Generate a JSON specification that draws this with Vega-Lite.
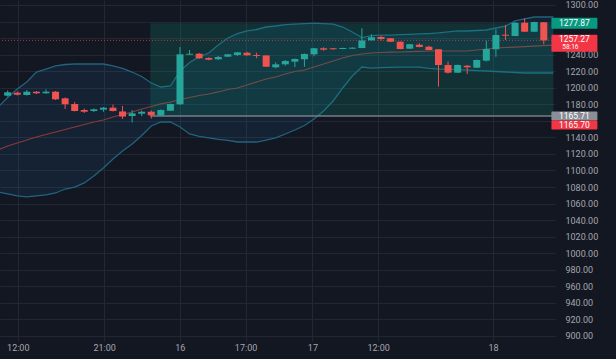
{
"$schema": "https://vega.github.io/schema/vega-lite/v6.json",
"width": 555, "height": 341,
"autosize": {"type": "none"},
"padding": {"left": 0, "top": 0, "right": 61, "bottom": 18},
"background": "#131722",
"config": {"view": {"stroke": null}, "font": "Roboto"},
"datasets": {
"candles": [
{"i":0,"o":1190.4,"h":1196.7,"l":1189.4,"c":1194.5},
{"i":1,"o":1194.0,"h":1195.5,"l":1190.6,"c":1191.6},
{"i":2,"o":1191.2,"h":1197.3,"l":1190.6,"c":1195.2},
{"i":3,"o":1195.2,"h":1196.0,"l":1192.4,"c":1193.3},
{"i":4,"o":1193.3,"h":1197.9,"l":1192.7,"c":1195.2},
{"i":5,"o":1195.2,"h":1196.0,"l":1185.2,"c":1186.0},
{"i":6,"o":1187.2,"h":1188.2,"l":1174.3,"c":1180.0},
{"i":7,"o":1180.3,"h":1182.8,"l":1171.3,"c":1171.9},
{"i":8,"o":1173.1,"h":1174.9,"l":1169.5,"c":1171.0},
{"i":9,"o":1171.9,"h":1174.9,"l":1170.7,"c":1173.9},
{"i":10,"o":1173.5,"h":1176.7,"l":1171.0,"c":1175.9},
{"i":11,"o":1175.9,"h":1179.7,"l":1171.3,"c":1171.9},
{"i":12,"o":1171.3,"h":1177.9,"l":1162.2,"c":1165.2},
{"i":13,"o":1165.8,"h":1173.1,"l":1158.0,"c":1169.1},
{"i":14,"o":1168.6,"h":1172.5,"l":1165.8,"c":1171.0},
{"i":15,"o":1171.0,"h":1172.5,"l":1162.8,"c":1166.7},
{"i":16,"o":1166.4,"h":1173.7,"l":1165.8,"c":1173.1},
{"i":17,"o":1172.2,"h":1180.9,"l":1171.9,"c":1180.3},
{"i":18,"o":1180.0,"h":1249.2,"l":1179.1,"c":1240.4},
{"i":19,"o":1239.9,"h":1245.6,"l":1239.6,"c":1241.1},
{"i":20,"o":1241.1,"h":1242.0,"l":1234.7,"c":1235.6},
{"i":21,"o":1236.0,"h":1236.8,"l":1233.2,"c":1233.9},
{"i":22,"o":1234.4,"h":1238.4,"l":1233.5,"c":1237.2},
{"i":23,"o":1237.5,"h":1240.8,"l":1237.2,"c":1240.4},
{"i":24,"o":1239.6,"h":1243.2,"l":1238.4,"c":1242.8},
{"i":25,"o":1242.3,"h":1243.5,"l":1238.7,"c":1239.2},
{"i":26,"o":1239.6,"h":1242.3,"l":1235.6,"c":1238.4},
{"i":27,"o":1239.0,"h":1239.6,"l":1225.0,"c":1225.4},
{"i":28,"o":1224.7,"h":1230.7,"l":1223.5,"c":1228.3},
{"i":29,"o":1228.3,"h":1233.5,"l":1226.6,"c":1232.3},
{"i":30,"o":1231.5,"h":1235.3,"l":1225.0,"c":1234.7},
{"i":31,"o":1234.4,"h":1241.4,"l":1225.4,"c":1240.8},
{"i":32,"o":1240.4,"h":1248.0,"l":1238.0,"c":1247.7},
{"i":33,"o":1247.7,"h":1248.9,"l":1244.8,"c":1246.0},
{"i":34,"o":1247.7,"h":1248.0,"l":1246.0,"c":1246.5},
{"i":35,"o":1246.8,"h":1248.4,"l":1246.5,"c":1248.0},
{"i":36,"o":1247.2,"h":1248.9,"l":1246.8,"c":1248.4},
{"i":37,"o":1248.0,"h":1271.8,"l":1247.7,"c":1257.1},
{"i":38,"o":1257.3,"h":1264.6,"l":1257.1,"c":1261.0},
{"i":39,"o":1261.3,"h":1262.9,"l":1256.9,"c":1258.9},
{"i":40,"o":1259.8,"h":1260.1,"l":1255.3,"c":1255.6},
{"i":41,"o":1255.6,"h":1256.1,"l":1246.5,"c":1246.8},
{"i":42,"o":1247.2,"h":1252.9,"l":1246.8,"c":1252.6},
{"i":43,"o":1252.0,"h":1253.7,"l":1248.9,"c":1249.2},
{"i":44,"o":1249.6,"h":1250.8,"l":1245.2,"c":1245.6},
{"i":45,"o":1246.5,"h":1246.8,"l":1201.3,"c":1227.5},
{"i":46,"o":1227.5,"h":1231.7,"l":1217.2,"c":1218.2},
{"i":47,"o":1218.2,"h":1228.1,"l":1217.8,"c":1227.5},
{"i":48,"o":1226.6,"h":1227.5,"l":1216.6,"c":1224.7},
{"i":49,"o":1224.2,"h":1234.1,"l":1223.9,"c":1233.5},
{"i":50,"o":1232.7,"h":1256.9,"l":1231.7,"c":1246.8},
{"i":51,"o":1246.5,"h":1270.6,"l":1237.5,"c":1263.7},
{"i":52,"o":1264.1,"h":1275.8,"l":1257.7,"c":1262.9},
{"i":53,"o":1262.5,"h":1279.1,"l":1262.2,"c":1278.6},
{"i":54,"o":1278.6,"h":1283.9,"l":1267.4,"c":1267.7},
{"i":55,"o":1267.7,"h":1279.8,"l":1267.4,"c":1279.4},
{"i":56,"o":1279.1,"h":1279.4,"l":1252.5,"c":1257.27}
],
"bands": [
{"i":-1,"up":1176.7,"mid":1124.8,"lo":1074.0},
{"i":0,"up":1188.2,"mid":1129.6,"lo":1071.6},
{"i":1,"up":1198.5,"mid":1133.2,"lo":1069.2},
{"i":2,"up":1206.9,"mid":1136.8,"lo":1068.0},
{"i":3,"up":1219.0,"mid":1140.5,"lo":1069.2},
{"i":4,"up":1222.6,"mid":1143.5,"lo":1070.4},
{"i":5,"up":1226.3,"mid":1146.5,"lo":1072.8},
{"i":6,"up":1228.1,"mid":1149.5,"lo":1077.6},
{"i":7,"up":1228.7,"mid":1152.5,"lo":1080.0},
{"i":8,"up":1228.7,"mid":1155.6,"lo":1084.9},
{"i":9,"up":1228.7,"mid":1158.6,"lo":1093.3},
{"i":10,"up":1228.7,"mid":1161.0,"lo":1103.0},
{"i":11,"up":1226.3,"mid":1164.6,"lo":1113.9},
{"i":12,"up":1223.3,"mid":1167.7,"lo":1123.5},
{"i":13,"up":1219.0,"mid":1170.7,"lo":1132.0},
{"i":14,"up":1213.6,"mid":1174.3,"lo":1142.3},
{"i":15,"up":1205.7,"mid":1177.3,"lo":1153.8},
{"i":16,"up":1200.9,"mid":1180.4,"lo":1158.6},
{"i":17,"up":1202.1,"mid":1182.8,"lo":1158.6},
{"i":18,"up":1220.2,"mid":1185.8,"lo":1152.5},
{"i":19,"up":1230.5,"mid":1188.2,"lo":1144.1},
{"i":20,"up":1237.2,"mid":1190.6,"lo":1141.1},
{"i":21,"up":1242.0,"mid":1192.4,"lo":1139.3},
{"i":22,"up":1251.7,"mid":1194.9,"lo":1137.5},
{"i":23,"up":1260.1,"mid":1197.9,"lo":1136.3},
{"i":24,"up":1265.5,"mid":1199.7,"lo":1134.4},
{"i":25,"up":1268.6,"mid":1203.3,"lo":1134.4},
{"i":26,"up":1270.4,"mid":1206.9,"lo":1134.4},
{"i":27,"up":1273.4,"mid":1210.6,"lo":1136.8},
{"i":28,"up":1274.6,"mid":1213.0,"lo":1139.3},
{"i":29,"up":1276.4,"mid":1216.6,"lo":1144.1},
{"i":30,"up":1277.0,"mid":1219.6,"lo":1148.9},
{"i":31,"up":1277.6,"mid":1221.4,"lo":1154.4},
{"i":32,"up":1278.2,"mid":1225.0,"lo":1162.2},
{"i":33,"up":1277.6,"mid":1228.7,"lo":1171.9},
{"i":34,"up":1277.0,"mid":1232.3,"lo":1184.0},
{"i":35,"up":1273.4,"mid":1235.9,"lo":1199.7},
{"i":36,"up":1267.4,"mid":1239.0,"lo":1214.2},
{"i":37,"up":1260.7,"mid":1240.8,"lo":1225.0},
{"i":38,"up":1263.1,"mid":1242.0,"lo":1223.8},
{"i":39,"up":1263.5,"mid":1242.6,"lo":1224.2},
{"i":40,"up":1263.7,"mid":1243.0,"lo":1224.7},
{"i":41,"up":1264.1,"mid":1243.2,"lo":1225.0},
{"i":42,"up":1264.6,"mid":1243.6,"lo":1225.0},
{"i":43,"up":1265.0,"mid":1244.0,"lo":1225.0},
{"i":44,"up":1265.5,"mid":1244.4,"lo":1223.3},
{"i":45,"up":1266.2,"mid":1244.4,"lo":1222.6},
{"i":46,"up":1267.4,"mid":1244.4,"lo":1222.3},
{"i":47,"up":1268.6,"mid":1244.4,"lo":1221.8},
{"i":48,"up":1268.6,"mid":1244.4,"lo":1221.4},
{"i":49,"up":1269.2,"mid":1245.6,"lo":1220.8},
{"i":50,"up":1269.8,"mid":1246.8,"lo":1220.2},
{"i":51,"up":1272.2,"mid":1248.0,"lo":1219.6},
{"i":52,"up":1274.6,"mid":1248.6,"lo":1219.0},
{"i":53,"up":1280.7,"mid":1249.2,"lo":1218.4},
{"i":54,"up":1283.1,"mid":1249.8,"lo":1217.8},
{"i":55,"up":1285.5,"mid":1250.4,"lo":1217.8},
{"i":56,"up":1285.5,"mid":1251.0,"lo":1217.8},
{"i":57,"up":1285.5,"mid":1251.6,"lo":1217.8}
]
},
"layer": [
{
"data": {"name": "bands"},
"mark": {"type": "area", "color": "#2196f3", "opacity": 0.09, "clip": true},
"encoding": {
"x": {"field": "i", "type": "quantitative",
"scale": {"domain": [-0.28, 56.65], "nice": false, "zero": false},
"axis": {"orient": "bottom", "title": null, "values": [1.054, 10.08, 17.98, 24.85, 31.83, 38.7, 50.7], "tickCount": 20,
"labelExpr": "datum.value < 5 ? '12:00' : datum.value < 15 ? '21:00' : datum.value < 20 ? '16' : datum.value < 28 ? '17:00' : datum.value < 35 ? '17' : datum.value < 45 ? '12:00' : '18'",
"grid": true, "gridColor": "#232733", "ticks": false, "domain": false, "labelOverlap": false,
"labelColor": "#a3a6af", "labelFontSize": 9, "labelFont": "Roboto", "labelPadding": 2}},
"y": {"field": "lo", "type": "quantitative",
"scale": {"domain": [893.9, 1306.04], "nice": false, "zero": false},
"axis": {"orient": "right", "title": null, "values": [900,920,940,960,980,1000,1020,1040,1060,1080,1100,1120,1140,1160,1180,1200,1220,1240,1260,1280,1300], "tickCount": 30,
"labelExpr": "(datum.value == 1280 || datum.value == 1260 || datum.value == 1160) ? '' : format(datum.value, '.2f')",
"grid": true, "gridColor": "#232733", "ticks": false, "domain": false, "labelOverlap": false,
"labelAlign": "left", "labelPadding": 10, "labelColor": "#a3a6af", "labelFontSize": 9, "labelFont": "Roboto"}},
"y2": {"field": "up"}
}
},
{
"data": {"name": "bands"},
"mark": {"type": "line", "color": "#22637d", "strokeWidth": 1.3, "clip": true},
"encoding": {"x": {"field": "i", "type": "quantitative"}, "y": {"field": "up", "type": "quantitative"}}
},
{
"data": {"name": "bands"},
"mark": {"type": "line", "color": "#22637d", "strokeWidth": 1.3, "clip": true},
"encoding": {"x": {"field": "i", "type": "quantitative"}, "y": {"field": "lo", "type": "quantitative"}}
},
{
"data": {"name": "bands"},
"mark": {"type": "line", "color": "#8c3a38", "strokeWidth": 1.2, "clip": true},
"encoding": {"x": {"field": "i", "type": "quantitative"}, "y": {"field": "mid", "type": "quantitative"}}
},
{
"data": {"values": [{"start": 14.9, "end": 57, "top": 1277.87, "bottom": 1165.71}]},
"layer": [
{"mark": {"type": "rect", "color": "#089981", "opacity": 0.2, "clip": true},
"encoding": {"x": {"field": "start", "type": "quantitative"}, "x2": {"field": "end"},
"y": {"field": "bottom", "type": "quantitative"}, "y2": {"field": "top"}}},
{"mark": {"type": "rule", "color": "#787b86", "strokeWidth": 1.5, "clip": true},
"encoding": {"x": {"field": "start", "type": "quantitative"}, "x2": {"field": "end"},
"y": {"field": "bottom", "type": "quantitative"}}}
]
},
{
"data": {"values": [{"price": 1257.27}]},
"mark": {"type": "rule", "color": "#f23645", "strokeDash": [1, 2], "opacity": 0.8, "strokeWidth": 1},
"encoding": {"y": {"field": "price", "type": "quantitative"}}
},
{
"data": {"name": "candles"},
"mark": {"type": "rule", "strokeWidth": 1, "clip": true},
"encoding": {
"x": {"field": "i", "type": "quantitative"},
"y": {"field": "l", "type": "quantitative"}, "y2": {"field": "h"},
"color": {"condition": {"test": "datum.c >= datum.o", "value": "#26a69a"}, "value": "#ef5350"}
}
},
{
"data": {"name": "candles"},
"mark": {"type": "bar", "width": 7, "clip": true},
"encoding": {
"x": {"field": "i", "type": "quantitative"},
"y": {"field": "o", "type": "quantitative"}, "y2": {"field": "c"},
"color": {"condition": {"test": "datum.c >= datum.o", "value": "#26a69a"}, "value": "#ef5350"}
}
},
{
"data": {"values": [{"price": 1277.87, "label": "1277.87"}]},
"layer": [
{"mark": {"type": "tick", "orient": "horizontal", "size": 46, "thickness": 11, "color": "#089981", "opacity": 1, "cornerRadius": 1},
"encoding": {"x": {"datum": 59.2, "type": "quantitative"}, "y": {"field": "price", "type": "quantitative"}}},
{"mark": {"type": "text", "color": "#ffffff", "fontSize": 8.5, "align": "center", "baseline": "middle"},
"encoding": {"x": {"datum": 59.2, "type": "quantitative"}, "y": {"field": "price", "type": "quantitative"}, "text": {"field": "label"}}}
]
},
{
"data": {"values": [{"price": 1257.27, "label": "1257.27", "timer": "58:16"}]},
"layer": [
{"mark": {"type": "tick", "orient": "horizontal", "size": 46, "thickness": 17, "color": "#f23645", "opacity": 1, "yOffset": 3, "cornerRadius": 1},
"encoding": {"x": {"datum": 59.2, "type": "quantitative"}, "y": {"field": "price", "type": "quantitative"}}},
{"mark": {"type": "text", "color": "#ffffff", "fontSize": 8.5, "align": "center", "baseline": "middle", "dy": -1.5},
"encoding": {"x": {"datum": 59.2, "type": "quantitative"}, "y": {"field": "price", "type": "quantitative"}, "text": {"field": "label"}}},
{"mark": {"type": "text", "color": "#ffffff", "fontSize": 6.5, "align": "center", "baseline": "middle", "dy": 7, "dx": -4},
"encoding": {"x": {"datum": 59.2, "type": "quantitative"}, "y": {"field": "price", "type": "quantitative"}, "text": {"field": "timer"}}}
]
},
{
"data": {"values": [{"price": 1165.71, "label": "1165.71"}]},
"layer": [
{"mark": {"type": "tick", "orient": "horizontal", "size": 46, "thickness": 9, "color": "#8b8e97", "opacity": 1, "cornerRadius": 1},
"encoding": {"x": {"datum": 59.2, "type": "quantitative"}, "y": {"field": "price", "type": "quantitative"}}},
{"mark": {"type": "text", "color": "#ffffff", "fontSize": 8.5, "align": "center", "baseline": "middle"},
"encoding": {"x": {"datum": 59.2, "type": "quantitative"}, "y": {"field": "price", "type": "quantitative"}, "text": {"field": "label"}}}
]
},
{
"data": {"values": [{"price": 1165.70, "label": "1165.70"}]},
"layer": [
{"mark": {"type": "tick", "orient": "horizontal", "size": 46, "thickness": 9, "color": "#f23645", "opacity": 1, "yOffset": 9, "cornerRadius": 1},
"encoding": {"x": {"datum": 59.2, "type": "quantitative"}, "y": {"field": "price", "type": "quantitative"}}},
{"mark": {"type": "text", "color": "#ffffff", "fontSize": 8.5, "align": "center", "baseline": "middle", "dy": 9},
"encoding": {"x": {"datum": 59.2, "type": "quantitative"}, "y": {"field": "price", "type": "quantitative"}, "text": {"field": "label"}}}
]
}
]
}
